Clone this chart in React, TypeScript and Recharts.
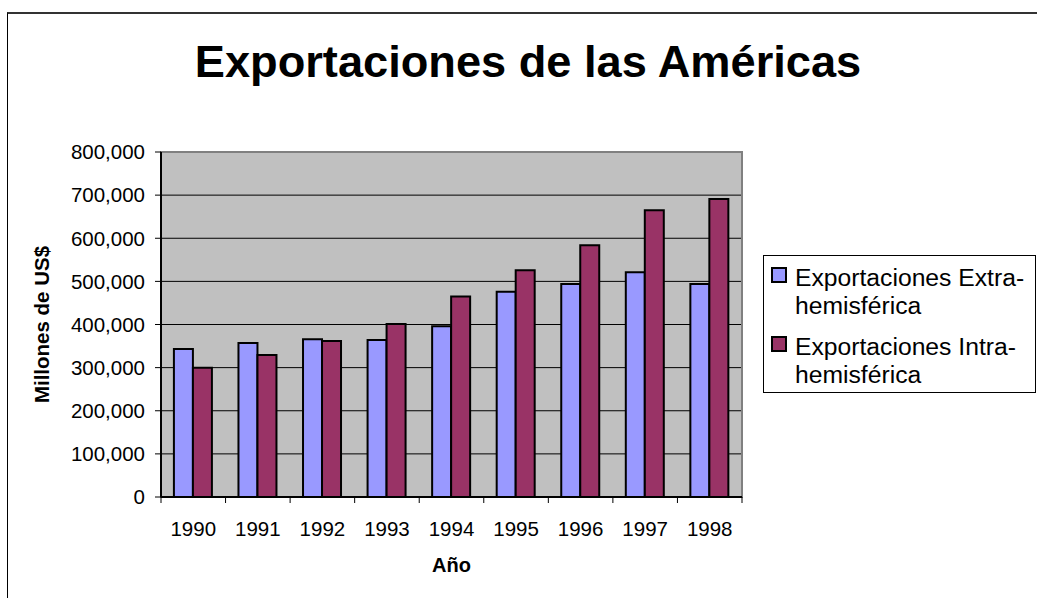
import React from 'react';
import { BarChart, Bar, XAxis, YAxis, CartesianGrid, Legend, ReferenceArea } from 'recharts';

const years = ['1990', '1991', '1992', '1993', '1994', '1995', '1996', '1997', '1998'];
const extraHemisferica = [343000, 357000, 366000, 364000, 396000, 476000, 494000, 521000, 494000];
const intraHemisferica = [300000, 329000, 362000, 401000, 465000, 526000, 584000, 665000, 691000];
const yTicks = [0, 100000, 200000, 300000, 400000, 500000, 600000, 700000, 800000];
const seriesNames = ['Exportaciones Extra-hemisférica', 'Exportaciones Intra-hemisférica'];
const titleText = 'Exportaciones de las Américas';
const xLabel = 'Año';
const yLabel = 'Millones de US$';

const data = years.map((year, i) => ({
  year,
  extra: extraHemisferica[i],
  intra: intraHemisferica[i],
}));

const FONT = 'Arial, "Liberation Sans", sans-serif';
const TICK_SIZE = 6;
const X_TICK_MARGIN = 18;

const XTick = (props: any) => {
  const { x, y, payload, index, visibleTicksCount } = props;
  const half = payload && typeof payload.offset === 'number' ? payload.offset : 0;
  const lineTop = y - TICK_SIZE - X_TICK_MARGIN;
  const lineBottom = y - X_TICK_MARGIN;
  const isLast =
    (typeof visibleTicksCount === 'number' && index === visibleTicksCount - 1) ||
    (payload && payload.value === years[years.length - 1]);
  return (
    <g>
      <line x1={x - half} x2={x - half} y1={lineTop} y2={lineBottom} stroke="#000" strokeWidth={1} />
      {isLast ? (
        <line x1={x + half} x2={x + half} y1={lineTop} y2={lineBottom} stroke="#000" strokeWidth={1} />
      ) : null}
      <text x={x} y={y} dy="0.71em" textAnchor="middle" fontSize={20.5} fill="#000" fontFamily={FONT}>
        {payload.value}
      </text>
    </g>
  );
};

const LegendContent = (props: any) => {
  const payload = props.payload || [];
  return (
    <div style={{ position: 'relative', width: '100%', height: '100%' }}>
      {payload.map((entry: any, i: number) => {
        const parts = String(entry.value).split('-');
        return (
          <div
            key={i}
            style={{ position: 'absolute', left: 7, top: 8 + i * 69, display: 'flex', alignItems: 'flex-start' }}
          >
            <div
              style={{
                width: 16,
                height: 16,
                boxSizing: 'border-box',
                border: '2px solid #000',
                background: entry.color,
                marginTop: 3,
                marginRight: 8,
                flex: '0 0 auto',
              }}
            />
            <div style={{ fontSize: 24.7, lineHeight: '28px', color: '#000', whiteSpace: 'nowrap', fontFamily: FONT }}>
              {parts[0]}-
              <br />
              {parts.slice(1).join('-')}
            </div>
          </div>
        );
      })}
    </div>
  );
};

export default function App() {
  return (
    <div
      style={{
        position: 'absolute',
        left: 0,
        top: 0,
        width: 1037,
        height: 598,
        overflow: 'hidden',
        background: '#fff',
        fontFamily: FONT,
      }}
    >
      <div
        style={{
          position: 'absolute',
          left: 7,
          top: 12,
          width: 1100,
          height: 700,
          borderLeft: '1px solid #000',
          borderTop: '2px solid #333',
        }}
      />
      <div
        style={{
          position: 'absolute',
          left: 0,
          top: 37,
          width: 1056,
          textAlign: 'center',
          fontSize: 45.2,
          lineHeight: '50px',
          fontWeight: 700,
          color: '#000',
          fontFamily: FONT,
        }}
      >
        {titleText}
      </div>
      <BarChart
        width={1037}
        height={598}
        data={data}
        margin={{ top: 152, right: 22, bottom: 0, left: 0 }}
        barCategoryGap="20%"
        barGap={0}
        style={{ position: 'absolute', left: 0, top: 0 }}
      >
        <CartesianGrid fill="#C0C0C0" vertical={false} stroke="#000" strokeWidth={1} strokeOpacity={1} />
        <ReferenceArea
          x1={years[0]}
          x2={years[years.length - 1]}
          y1={0}
          y2={800000}
          fill="none"
          fillOpacity={0}
          stroke="#808080"
          strokeWidth={2}
        />
        <XAxis
          dataKey="year"
          height={101}
          interval={0}
          tickSize={TICK_SIZE}
          tickMargin={X_TICK_MARGIN}
          tickLine={false}
          axisLine={{ stroke: '#000', strokeWidth: 2 }}
          tick={<XTick />}
          label={{
            value: xLabel,
            content: (p: any) => {
              const vb = p.viewBox || { x: 161, y: 497, width: 581, height: 101 };
              return (
                <text
                  x={vb.x + vb.width / 2}
                  y={vb.y + 75}
                  textAnchor="middle"
                  fontSize={20}
                  fontWeight={700}
                  fill="#000"
                  fontFamily={FONT}
                >
                  {xLabel}
                </text>
              );
            },
          }}
        />
        <YAxis
          width={161}
          domain={[0, 800000]}
          ticks={yTicks}
          interval={0}
          tickSize={TICK_SIZE}
          tickMargin={10}
          tickFormatter={(v: number) => v.toLocaleString('en-US')}
          tick={{ fontSize: 20.5, fill: '#000', fontFamily: FONT }}
          tickLine={{ stroke: '#000', strokeWidth: 1 }}
          axisLine={{ stroke: '#000', strokeWidth: 2 }}
          label={{
            value: yLabel,
            content: (p: any) => {
              const vb = p.viewBox || { x: 0, y: 152, width: 161, height: 345 };
              const cx = vb.x + 49;
              const cy = vb.y + vb.height / 2;
              return (
                <text
                  x={cx}
                  y={cy}
                  transform={`rotate(-90 ${cx} ${cy})`}
                  textAnchor="middle"
                  fontSize={20.5}
                  fontWeight={700}
                  fill="#000"
                  fontFamily={FONT}
                >
                  {yLabel}
                </text>
              );
            },
          }}
        />
        <Legend
          layout="vertical"
          align="right"
          verticalAlign="middle"
          content={<LegendContent />}
          wrapperStyle={{
            left: 763,
            top: 255,
            width: 273,
            height: 138,
            border: '1px solid #000',
            boxSizing: 'border-box',
            background: '#fff',
          }}
        />
        <Bar dataKey="extra" name={seriesNames[0]} fill="#9999FF" stroke="#000" strokeWidth={2} isAnimationActive={false} />
        <Bar dataKey="intra" name={seriesNames[1]} fill="#993366" stroke="#000" strokeWidth={2} isAnimationActive={false} />
      </BarChart>
    </div>
  );
}
